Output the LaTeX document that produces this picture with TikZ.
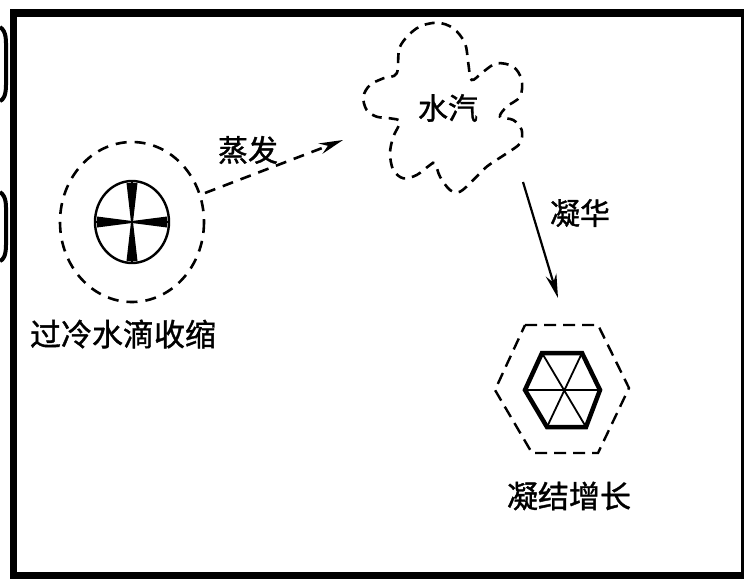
\documentclass[tikz,border=0pt]{standalone}
\usepackage{fontspec}
\newfontfamily\cjk[FakeBold=1.2]{Noto Sans CJK SC}
\usetikzlibrary{arrows.meta}
\begin{document}
\begin{tikzpicture}[x=1pt,y=-1pt,
  dashline/.style={line width=2.6pt, dash pattern=on 11pt off 8pt},
  lbl/.style={font=\cjk\fontsize{30}{32}\selectfont, inner sep=0pt},
  bar/.style={fill=black, draw=none},
  tip/.style={-{Stealth[length=24pt,width=11pt]}}]
\useasboundingbox (0,0) rectangle (744,579);
\fill[white] (0,0) rectangle (744,579);

% frame
\fill[bar] (10,9) rectangle (17,579);
\fill[bar] (10,9) rectangle (744,17);
\fill[bar] (741,9) rectangle (744,579);
\fill[bar] (10,572) rectangle (744,579);

% cut-off glyph strokes at the left margin
\draw[line width=4pt] (0,27) .. controls (7,32) and (6,40) .. (6,55) -- (6,85) .. controls (6,96) and (3,100) .. (0,101);
\draw[line width=4pt] (0,192) .. controls (7,197) and (6,205) .. (6,218) -- (6,245) .. controls (6,256) and (3,260) .. (0,261);

% shrinking supercooled droplet
\coordinate (drop) at (132,222);
\draw[dashline] (drop) ellipse [x radius=72, y radius=80];
\draw[line width=2.4pt] (drop) ellipse [x radius=37, y radius=41];
\fill (126.5,183) -- (137.5,183) -- (133,222) -- (131,222) -- cycle;
\fill (126.5,261) -- (137.5,261) -- (133,222) -- (131,222) -- cycle;
\fill (97,216.5) -- (97,227.5) -- (132,223) -- (132,221) -- cycle;
\fill (167,216.5) -- (167,227.5) -- (132,223) -- (132,221) -- cycle;
\draw[line width=1.4pt] (132,181) -- (132,263) (95,222) -- (169,222);
\node[lbl, font=\cjk\fontsize{31}{33}\selectfont] (droplbl) at (123,334) {过冷水滴收缩};

% evaporation arrow
\coordinate (evapS) at (205,193);
\coordinate (evapE) at (343,140);
\draw[dashline, tip] (evapS) -- (evapE);
\node[lbl] (evaplbl) at (248,150) {蒸发};

% vapour cloud
\draw[dashline, dash pattern=on 10pt off 7pt]
  plot[smooth cycle, tension=0.55] coordinates {
  (396.7,73.3) (400,46.7) (416.7,28.3) (436.7,22.7) (453.3,28.3) (465,43.3)
  (468.3,63.3) (471.7,80) (483.3,71.7) (496.7,63.3) (513.3,66.7) (521.7,80)
  (520,96.7) (506.7,106.7) (500,116.7) (513.3,120) (521.7,130) (520,143.3)
  (506.7,153.3) (486.7,166.7) (473.3,180) (460,191.7) (450,190) (440,176.7)
  (435,163.3) (430,165) (416.7,175) (403.3,178.3) (393.3,170) (390,153.3)
  (393.3,136.7) (400,121.7) (390,118.3) (376.7,116.7) (366.7,110) (363.3,96.7)
  (370,85) (383.3,78.3)};
\node[lbl] (vapour) at (448,108) {水汽};

% deposition arrow
\coordinate (depS) at (523,182);
\coordinate (depE) at (558,298);
\draw[line width=2.2pt, tip] (depS) -- (depE);
\node[lbl] (deplbl) at (580,213) {凝华};

% growing ice crystal
\draw[dashline, line width=2.4pt, dash pattern=on 12pt off 7pt]
  (525,325) -- (598,325) -- (629,388) -- (598,453) -- (532,453) -- (495,390) -- cycle;
\coordinate (ice) at (562,390);
\draw[line width=4.5pt, line join=miter]
  (542,353) -- (582,353) -- (600,390) -- (586,427) -- (547,427) -- (525,390) -- cycle;
\draw[line width=1.8pt] (525,390) -- (600,390) (542,353) -- (586,427) (582,353) -- (547,427);
\node[lbl, font=\cjk\fontsize{31}{33}\selectfont] (icelbl) at (569,496) {凝结增长};
\end{tikzpicture}
\end{document}
